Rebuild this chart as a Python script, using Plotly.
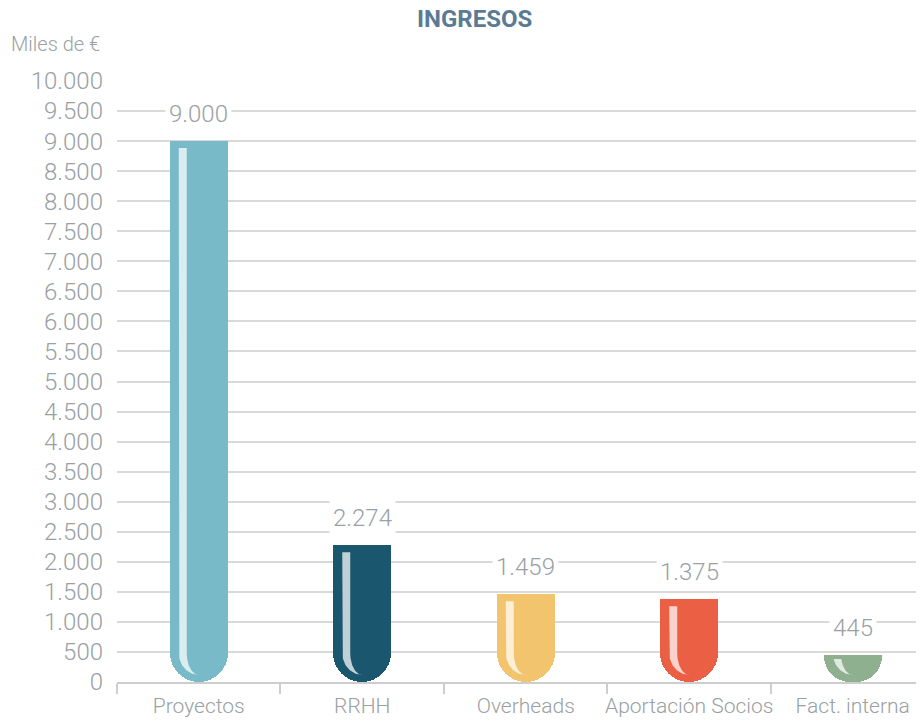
import numpy as np
import plotly.graph_objects as go

categories = ["Proyectos", "RRHH", "Overheads", "Aportación Socios", "Fact. interna"]
values = [9000, 2274, 1459, 1375, 445]
colors = ["#78bac8", "#1a566e", "#f2c46e", "#eb5f45", "#8fb08e"]
y_ticks = list(range(0, 10001, 500))

# the page body adds an 8px margin around the figure, so the figure is sized to compensate
OFF = 8
W, H = 924 - OFF, 721 - OFF
ML, MR, MT, MB = 117 - OFF, 0, 81 - OFF, 39
x_range = [-0.5, 4.436]
y_range = [0, 10000]
px_x = (W - ML - MR) / (x_range[1] - x_range[0])
px_y = (H - MT - MB) / (y_range[1] - y_range[0])
bar_w = 0.355
R_px = bar_w * px_x / 2

def fmt(v):
    return f"{v:,}".replace(",", ".")

fig = go.Figure()
idx = list(range(len(categories)))
layout_axes = {}

for i, v in enumerate(values):
    ax_n = i + 2
    yname = f"y{ax_n}"
    # each bar hangs from its own value down to zero, so the rounded tip sits at the baseline
    layout_axes[f"yaxis{ax_n}"] = dict(
        overlaying="y", visible=False, range=[y_range[0] - v, y_range[1] - v],
        automargin=False, fixedrange=True, showgrid=False, zeroline=False,
    )
    fig.add_trace(go.Bar(
        x=[i], y=[-v], width=bar_w, yaxis=yname,
        marker=dict(color=colors[i], cornerradius=R_px, line=dict(width=0)),
        hoverinfo="skip", showlegend=False,
    ))

    # highlight crescent inside the bar
    top = v * px_y
    h_top = top - 7 if top > 40 else top - 3
    cy = R_px
    ry = R_px - 7
    outer, inner = [], []
    for rx, pts in ((20, outer), (12, inner)):
        if h_top > cy:
            pts.append((-rx, h_top))
        for th in np.linspace(np.pi, 1.5 * np.pi, 40):
            xx = rx * np.cos(th)
            yy = cy + ry * np.sin(th)
            if yy <= h_top:
                pts.append((xx, yy))
    poly = outer + inner[::-1]
    if poly:
        poly.append(poly[0])
        fig.add_trace(go.Scatter(
            x=[i + p[0] / px_x for p in poly],
            y=[p[1] / px_y - v for p in poly],
            yaxis=yname, mode="lines", fill="toself",
            fillcolor="rgba(255,255,255,0.72)", line=dict(width=0),
            hoverinfo="skip", showlegend=False,
        ))

font_family = "Roboto"
gray = "#9aa0a4"

for i, v in enumerate(values):
    fig.add_annotation(
        x=i, y=v, xref="x", yref="y", text=fmt(v), showarrow=False,
        yanchor="middle", yshift=27, bgcolor="white", borderpad=3,
        font=dict(family=font_family, size=24, color=gray, weight=300),
    )

pw = W - ML - MR
ph = H - MT - MB
fig.add_annotation(
    xref="paper", yref="paper", x=(474 - OFF - ML) / pw, y=1 + (MT - (19 - OFF)) / ph,
    text="<b>INGRESOS</b>", showarrow=False, xanchor="center", yanchor="middle",
    font=dict(family=font_family, size=24, color="#5a7b93"),
)
fig.add_annotation(
    xref="paper", yref="paper", x=(102 - OFF - ML) / pw, y=1 + (MT - (44 - OFF)) / ph,
    text="Miles de €", showarrow=False, xanchor="right", yanchor="middle",
    font=dict(family=font_family, size=20, color=gray, weight=300),
)

fig.update_layout(
    width=W, height=H, margin=dict(l=ML, r=MR, t=MT, b=MB, pad=0),
    plot_bgcolor="white", paper_bgcolor="white", separators=",.",
    barmode="overlay", bargap=0, showlegend=False,
    xaxis=dict(
        range=x_range, tickvals=idx, ticktext=categories, ticks="",
        showgrid=False, zeroline=False, showline=True, linecolor="#cdcdcd", linewidth=2,
        tickfont=dict(family=font_family, size=21, color=gray, weight=300),
        ticklabelstandoff=4,
        minor=dict(tickvals=[i - 0.5 for i in range(len(categories) + 1)], ticks="outside",
                   ticklen=10, tickcolor="#cdcdcd", tickwidth=2, showgrid=False),
        automargin=False, fixedrange=True,
    ),
    yaxis=dict(
        range=y_range, tickvals=y_ticks, ticktext=[fmt(t) for t in y_ticks], ticks="",
        showgrid=True, gridcolor="#d9d9d9", gridwidth=2, zeroline=False, showline=False,
        tickfont=dict(family=font_family, size=24, color=gray, weight=300),
        ticklabelstandoff=13, automargin=False, fixedrange=True,
    ),
    **layout_axes,
)

fig.write_html("out.html")
